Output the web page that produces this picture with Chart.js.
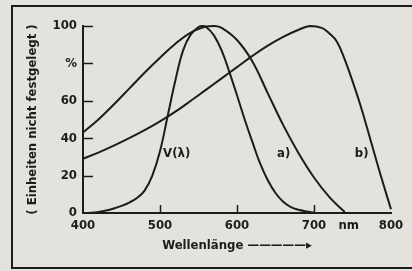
<!DOCTYPE html>
<html><head><meta charset="utf-8">
<script src="https://cdn.jsdelivr.net/npm/chart.js@4"></script>
<style>
html,body{margin:0;padding:0;background:#e3e2dc;}
#wrap{position:relative;width:412px;height:271px;overflow:hidden;background:#e3e2dc;}
#frame{position:absolute;left:11px;top:5px;width:420px;height:260px;border-left:2px solid #1c1c1c;border-top:2px solid #1c1c1c;border-bottom:2px solid #1c1c1c;}
canvas{position:absolute;left:0;top:0;}
</style></head><body>
<div id="wrap"><div id="frame"></div><canvas id="c" width="412" height="271"></canvas></div>
<script>
// Wavelengths (nm) and relative values (%)
const vWl  = [400,410,420,430,440,450,460,470,480,490,500,510,520,530,540,550,555,560,570,580,590,600,610,620,630,640,650,660,670,680,690,700];
const vVal = [0,0.2,0.6,1.3,2.4,3.8,5.6,8,12,20,33,52,71,87,95.5,99.5,100,99.5,95,87,75.5,63,50,38,26.5,17.5,10.7,6,3.2,1.7,0.8,0.3];
const aWl  = [400,420,440,460,480,500,520,540,560,570,580,600,620,640,660,680,700,720,740];
const aVal = [43,50,58,66.5,75,83,90.5,96.5,99.7,100,99,92.5,81,64,47,32,19,8.5,0.5];
const bWl  = [400,420,440,460,480,500,520,540,560,580,600,620,640,660,680,695,710,720,730,740,750,760,770,780,790,800];
const bVal = [29,32.3,36,40,44.3,49,54.2,60,66,72,78,84,89.5,94.2,98,100,99,96,91.5,82,70.5,58,44,29.5,15.5,2];

const xTickValues = [400,500,600,700,745,800];
const xTickLabels = ['400','500','600','700','nm','800'];
const yTickValues = [0,20,40,60,80,100];
const yTickLabels = ['0','20','40','60','%','100'];
const curveNames  = ['V(λ)','a)','b)'];
const curveLabelWl  = [504,652,753];
const curveLabelVal = [32,32,32];

const INK = '#1c1c1c';
const FONT = 'DejaVu Sans Condensed';

const innerTicks = {
  id: 'innerTicks',
  afterDraw(chart) {
    const {ctx, chartArea: ca, scales: {x, y}} = chart;
    ctx.save();
    ctx.strokeStyle = INK;
    ctx.lineWidth = 1.5;
    yTickValues.forEach(v => {
      if (v === 0) return;
      const py = Math.round(y.getPixelForValue(v)) + 0.5;
      ctx.beginPath(); ctx.moveTo(ca.left, py); ctx.lineTo(ca.left + 10, py); ctx.stroke();
    });
    xTickValues.forEach(v => {
      if (v % 100 !== 0 || v === 400 || v === 800) return;
      const px = Math.round(x.getPixelForValue(v)) + 0.5;
      ctx.beginPath(); ctx.moveTo(px, ca.bottom); ctx.lineTo(px, ca.bottom - 8); ctx.stroke();
    });
    ctx.fillStyle = INK;
    ctx.font = 'bold 13px "' + FONT + '"';
    ctx.textAlign = 'left';
    ctx.textBaseline = 'middle';
    curveNames.forEach((t, i) => {
      ctx.fillText(t, x.getPixelForValue(curveLabelWl[i]), y.getPixelForValue(curveLabelVal[i]));
    });
    ctx.restore();
  }
};

function ds(wl, val) {
  return {
    data: wl.map((w, i) => ({x: w, y: val[i]})),
    borderColor: INK, borderWidth: 2, pointRadius: 0,
    tension: 0.4, clip: false, fill: false
  };
}

new Chart(document.getElementById('c'), {
  type: 'line',
  data: { datasets: [ds(vWl, vVal), ds(aWl, aVal), ds(bWl, bVal)] },
  options: {
    responsive: false, animation: false, devicePixelRatio: 1,
    layout: { padding: { left: 0, top: 26, right: 21, bottom: 0 } },
    plugins: { legend: { display: false }, tooltip: { enabled: false } },
    scales: {
      x: {
        type: 'linear', min: 400, max: 800,
        afterBuildTicks: s => { s.ticks = xTickValues.map(v => ({value: v})); },
        afterFit: s => { s.height = 58; },
        ticks: {
          autoSkip: false, maxRotation: 0, padding: 5, color: INK,
          font: { family: FONT, size: 13, weight: 'bold' },
          callback: v => xTickLabels[xTickValues.indexOf(v)]
        },
        grid: { drawOnChartArea: false, drawTicks: false },
        border: { color: INK, width: 2 },
        title: {
          display: true, text: 'Wellenlänge \u2014\u2014\u2014\u2014\u2014\u25B8', color: INK,
          font: { family: FONT, size: 13, weight: 'bold' },
          padding: { top: 0, bottom: 18 }
        }
      },
      y: {
        type: 'linear', min: 0, max: 100,
        afterBuildTicks: s => { s.ticks = yTickValues.map(v => ({value: v})); },
        afterFit: s => { s.width = 83; },
        ticks: {
          padding: 6, color: INK,
          font: { family: FONT, size: 13, weight: 'bold' },
          callback: v => yTickLabels[yTickValues.indexOf(v)]
        },
        grid: { drawOnChartArea: false, drawTicks: false },
        border: { color: INK, width: 2 },
        title: {
          display: true, text: '( Einheiten nicht festgelegt )', color: INK,
          font: { family: FONT, size: 13, weight: 'bold' },
          padding: { top: 25, bottom: 0 }
        }
      }
    }
  },
  plugins: [innerTicks]
});
</script>
</body></html>
